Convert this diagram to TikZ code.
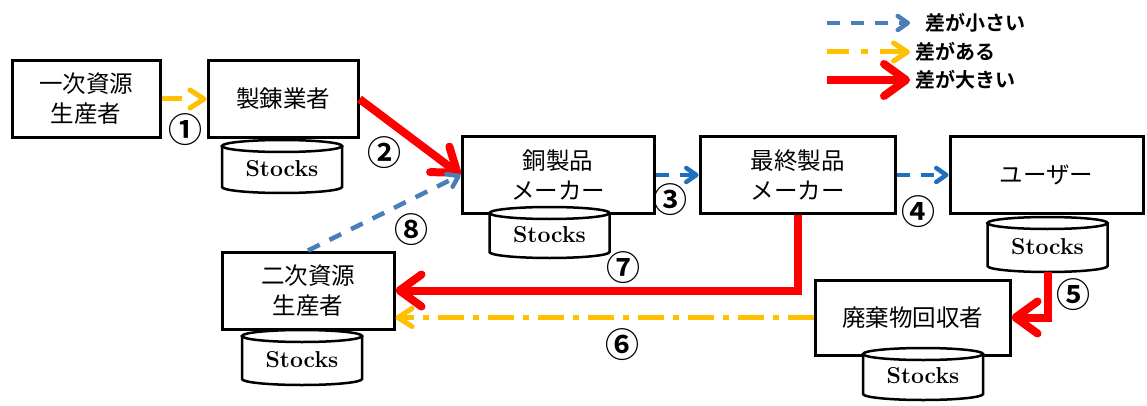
\documentclass[tikz,border=0pt]{standalone}
\usepackage{fontspec}
\newfontfamily\jp{Noto Sans CJK JP}[BoldFont={Noto Sans CJK JP Bold}]
\usetikzlibrary{arrows.meta}
\definecolor{cred}{HTML}{FF0000}
\definecolor{corange}{HTML}{FFC000}
\definecolor{cblue}{HTML}{4A7EBB}
\definecolor{cblueb}{HTML}{1F6FBF}
\newcommand\stockcyl[4]{%
  \draw[line width=2.5pt,fill=white] (#2-60,-#3) -- (#2-60,-#4) arc[start angle=180,end angle=360,x radius=60,y radius=6] -- (#2+60,-#3);
  \draw[line width=2.5pt,fill=white] (#2,-#3) ellipse[x radius=60,y radius=6];
  \node[stocktext] (#1) at (#2,{-(#3+#4)/2-2}) {Stocks};
  \coordinate (#1b) at (#2,{-#4-6});
}
\begin{document}
\begin{tikzpicture}[x=1pt,y=1pt,
  box/.style={draw=black,line width=3pt,fill=white,minimum width=#1,minimum height=77pt,inner sep=0pt,align=center,font=\jp\fontsize{23.5}{30}\selectfont},
  stocktext/.style={inner sep=0pt,font=\bfseries\fontsize{23}{26}\selectfont},
  num/.style={inner sep=0pt,font=\jp\bfseries\fontsize{34}{34}\selectfont},
  legtext/.style={inner sep=0pt,anchor=west,font=\jp\bfseries\fontsize{20}{20}\selectfont},
  redarr/.style={draw=cred,line width=8pt,-{Straight Barb[length=22pt,width=32pt,line cap=round,line join=round]}},
  orarr/.style={draw=corange,line width=5pt,dash pattern=on 26pt off 9pt on 6pt off 9pt,-{Straight Barb[length=14pt,width=18pt,line cap=round,line join=round]}},
  blarr/.style={line width=4.5pt,dash pattern=on 13pt off 11pt,-{Straight Barb[length=10pt,width=14pt,line cap=round,line join=round]}},
]
\useasboundingbox (0,0) rectangle (1147,-406);

% boxes
\node[box=148] (A) at (86,-99) {一次資源\\生産者};
\node[box=150] (B) at (283,-99) {製錬業者};
\node[box=192,minimum height=76pt] (C) at (558,-175) {銅製品\\メーカー};
\node[box=195,minimum height=76pt] (D) at (797.5,-175) {最終製品\\メーカー};
\node[box=193,minimum height=76pt] (E) at (1046.5,-175) {ユーザー};
\node[box=195,minimum height=75pt] (F) at (912.5,-317.5) {廃棄物回収者};
\node[box=172] (G) at (308,-290.5) {二次資源\\生産者};

% stocks
\stockcyl{sB}{282}{146}{187}
\stockcyl{sC}{549.5}{213}{252}
\stockcyl{sE}{1047.5}{223}{266}
\stockcyl{sF}{923}{354}{394}
\stockcyl{sG}{302}{336}{379}

% connectors
\draw[orarr,dash pattern=on 20pt off 30pt] (A.east) -- (B.west);
\draw[redarr] (B.east) -- (C.west);
\draw[blarr,draw=cblueb] (C.east) -- (D.west);
\draw[blarr,draw=cblueb] (D.east) -- (E.west);
\draw[redarr] (sEb) |- (F.east);
\draw[orarr] (F.west) -- (F.west -| G.east);
\draw[redarr] (D.south) |- (G.east);
\draw[blarr,draw=cblue] (G.north) -- (C.west);

% numbers
\node[num] (n1) at (185,-130) {①};
\node[num] (n2) at (384,-153) {②};
\node[num] (n3) at (670,-200) {③};
\node[num] (n4) at (918,-212) {④};
\node[num] (n5) at (1073,-295) {⑤};
\node[num] (n6) at (622,-345) {⑥};
\node[num] (n7) at (623,-268) {⑦};
\node[num] (n8) at (411,-230) {⑧};

% legend
\coordinate (l1s) at (827,-23); \coordinate (l1e) at (910,-23);
\coordinate (l2s) at (827,-52); \coordinate (l2e) at (910,-52);
\coordinate (l3s) at (827,-80); \coordinate (l3e) at (910,-80);
\draw[blarr,draw=cblue] (l1s) -- (l1e);
\draw[orarr,dash pattern=on 22pt off 12pt on 7pt off 12pt] (l2s) -- (l2e);
\draw[redarr] (l3s) -- (l3e);
\node[legtext] (t1) at (925,-23) {差が小さい};
\node[legtext] (t2) at (915,-52) {差がある};
\node[legtext] (t3) at (915,-80) {差が大きい};
\end{tikzpicture}
\end{document}
